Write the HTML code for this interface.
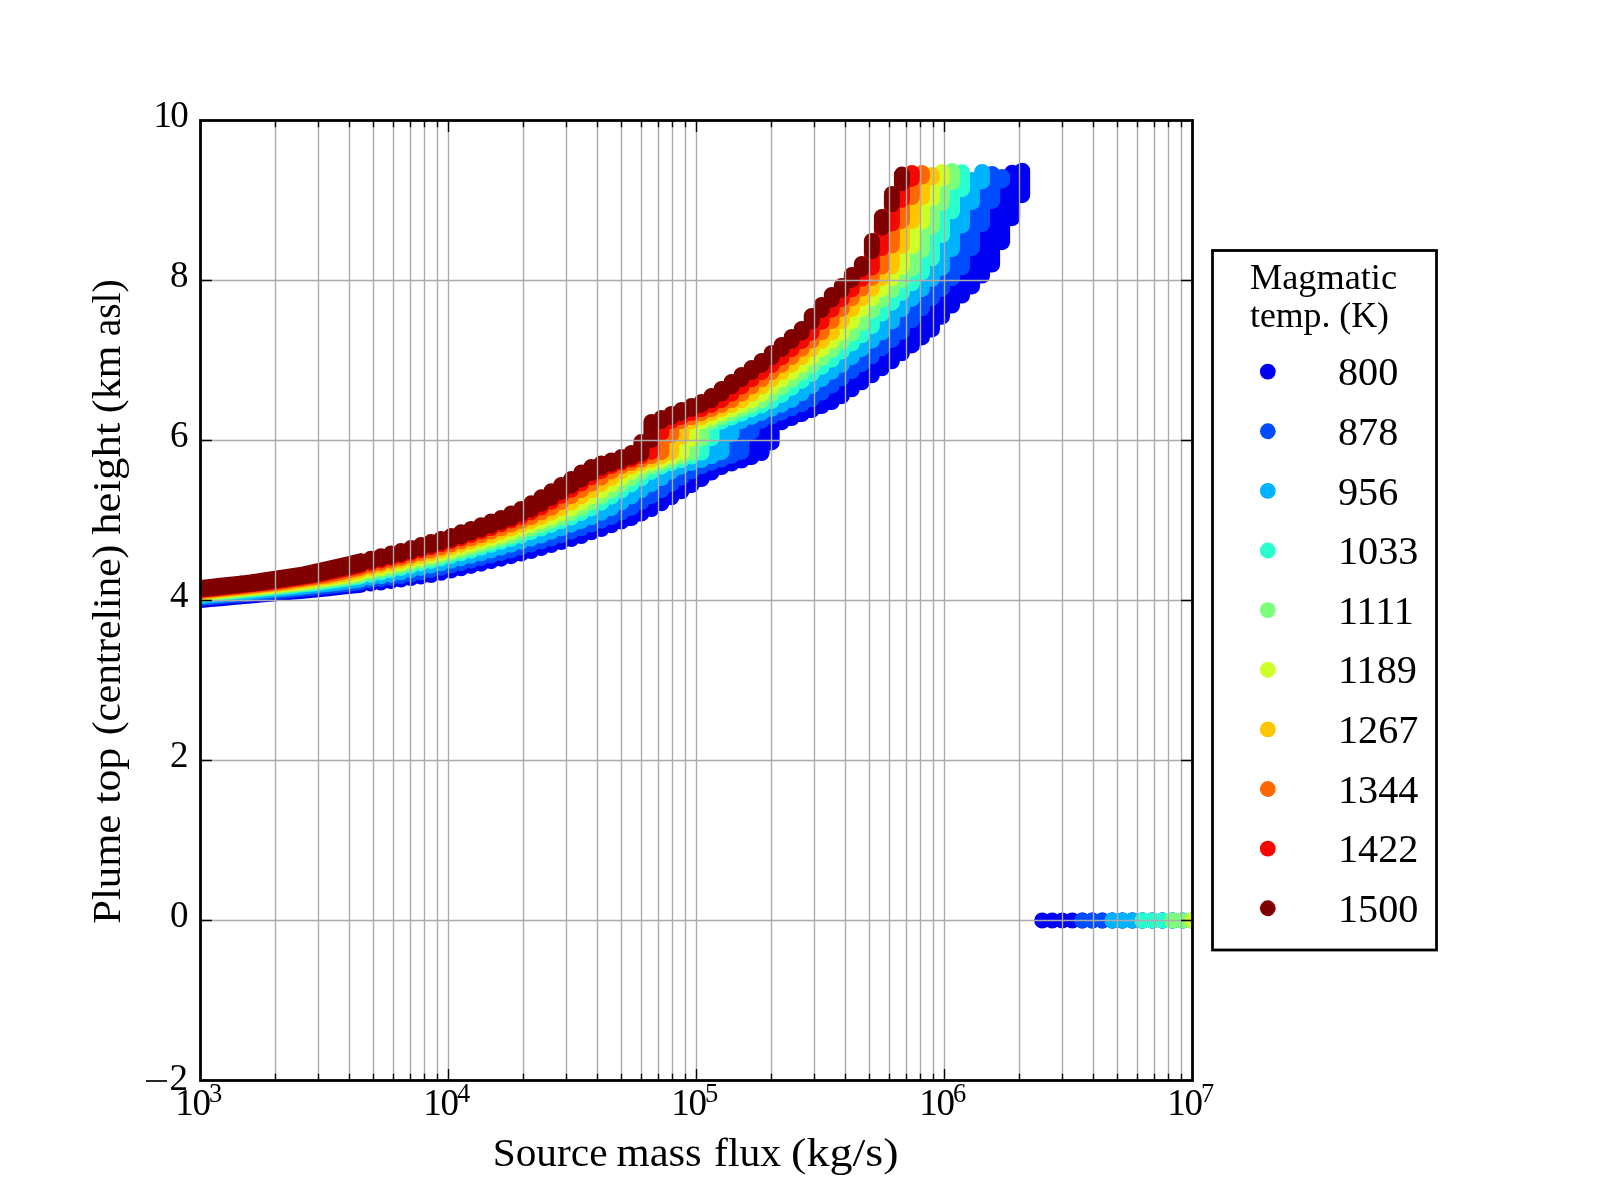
<!DOCTYPE html>
<html><head><meta charset="utf-8"><title>Plume top height vs source mass flux</title>
<style>html,body{margin:0;padding:0;background:#fff;}svg{display:block;will-change:transform;}text{font-family:"Liberation Serif",serif;fill:#000;}</style></head><body>
<svg width="1600" height="1200" viewBox="0 0 1600 1200">
<rect width="1600" height="1200" fill="#fff"/>
<defs><clipPath id="ax"><rect x="200.5" y="120.5" width="992.0" height="960.0"/></clipPath></defs>
<g clip-path="url(#ax)" fill="none" stroke-width="16" stroke-linecap="round" stroke-linejoin="round">
<path stroke="#0000f3" d="M200.5 598.02V600M210.52 597.12V599.1M220.54 596.22V598.2M230.56 595.32V597.3M240.58 594.42V596.4M250.6 593.52V595.5M260.62 592.62V594.6M270.64 591.72V593.7M280.66 590.8V592.8M290.68 589.8V591.9M300.7 588.8V591M310.72 587.78V590M320.74 586.68V589M330.76 585.58V588M340.78 584.48V586.9M350.8 583.38V585.8M360.82 582.2V584.7M370.84 580.7V583.6M380.86 579.2V582.5M390.88 577.7V581M400.9 576.2V579.5M410.92 574.55V578M420.94 572.29V576.5M430.96 570.03V575M440.98 567.77V572.74M451.01 565.51V570.48M461.03 563.2V568.22M471.05 560.68V565.96M481.07 558.16V563.7M491.09 555.64V561.18M501.11 553.12V558.66M511.13 550.5V556.14M521.15 547.5V553.62M531.17 544.5V551.1M541.19 541.5V548.1M551.21 538.5V545.1M561.23 535.34V542.1M571.25 531.64V539.1M581.27 528.25V536.1M591.29 524.5V532.3M601.31 520.8V529M611.33 517.1V525.25M621.35 512.6V521.5M631.37 507.86V518M641.39 502.1V513.5M651.41 496.1V509M661.43 490.04V503.3M671.45 483.8V497.3M681.47 477.7V491.3M691.49 471.4V485M701.51 466.3V479M711.53 462.83V472.51M721.55 459.64V467.02M731.57 455.93V463.52M741.59 451.75V460.53M751.61 431.73V457.04M761.63 420.65V453.05M771.65 416.56V442.42M781.67 412.47V422.22M791.69 408.38V418.08M801.71 404.29V414.09M811.73 399.3V410.1M821.75 392.69V406.11M831.77 385.53V402.12M841.79 378.37V396.19M851.81 371.21V389.24M861.83 364.05V382.25M871.85 356.31V375.27M881.87 348.13V368.29M891.89 339.95V361.3M901.91 331.76V353.36M911.93 320.2V345.38M921.95 308.3V337.4M931.97 298V329.4M941.99 288.7V316.65M952.02 278.3V305.55M962.04 267.3V295.5M972.06 247.9V286.45M982.08 224.2V275.55M992.1 200.9V264.55M1002.12 180.42V242.15M1012.14 172.75V218.2M1022.16 170.75V195.15M200.5 598.02L210.52 597.12L220.54 596.22L230.56 595.32L240.58 594.42L250.6 593.52L260.62 592.62L270.64 591.72L280.66 590.8L290.68 589.8L300.7 588.8L310.72 587.78L320.74 586.68L330.76 585.58L340.78 584.48L350.8 583.38L360.82 582.2M200.5 600L210.52 599.1L220.54 598.2L230.56 597.3L240.58 596.4L250.6 595.5L260.62 594.6L270.64 593.7L280.66 592.8L290.68 591.9L300.7 591L310.72 590L320.74 589L330.76 588L340.78 586.9L350.8 585.8L360.82 584.7M1042.2 920.5v.05M1052.22 920.5v.05M1062.24 920.5v.05M1072.26 920.5v.05M1082.28 920.5v.05M1092.3 920.5v.05M1102.32 920.5v.05M1112.34 920.5v.05M1122.36 920.5v.05M1132.38 920.5v.05M1142.4 920.5v.05M1152.42 920.5v.05M1162.44 920.5v.05M1172.46 920.5v.05M1182.48 920.5v.05M1192.5 920.5v.05"/>
<path stroke="#004dff" d="M200.5 596.26V598.02M210.52 595.37V597.12M220.54 594.47V596.22M230.56 593.57V595.32M240.58 592.66V594.42M250.6 591.76V593.52M260.62 590.85V592.62M270.64 589.85V591.72M280.66 588.85V590.8M290.68 587.84V589.8M300.7 586.74V588.8M310.72 585.63V587.78M320.74 584.53V586.68M330.76 583.43V585.58M340.78 582.27V584.48M350.8 580.77V583.38M360.82 579.27V582.2M370.84 577.77V580.7M380.86 576.27V579.2M390.88 574.66V577.7M400.9 572.4V576.2M410.92 570.14V574.55M420.94 567.88V572.29M430.96 565.62V570.03M440.98 563.32V567.77M451.01 560.8V565.51M461.03 558.28V563.2M471.05 555.76V560.68M481.07 553.24V558.16M491.09 550.65V555.64M501.11 547.65V553.12M511.13 544.65V550.5M521.15 541.65V547.5M531.17 538.65V544.5M541.19 535.53V541.5M551.21 531.8V538.5M561.23 528.44V535.34M571.25 524.69V531.64M581.27 520.98V528.25M591.29 517.33V524.5M601.31 512.83V520.8M611.33 508.14V517.1M621.35 502.4V512.6M631.37 496.4V507.86M641.39 490.36V502.1M651.41 484.1V496.1M661.43 478.03V490.04M671.45 471.68V483.8M681.47 466.48V477.7M691.49 463.05V471.4M701.51 459.98V466.3M711.53 456.31V462.83M721.55 452.16V459.64M731.57 434.15V455.93M741.59 421.04V451.75M751.61 416.95V431.73M761.63 412.85V420.65M771.65 408.76V416.56M781.67 404.67V412.47M791.69 399.87V408.38M801.71 393.36V404.29M811.73 386.2V399.3M821.75 379.04V392.69M831.77 371.88V385.53M841.79 364.72V378.37M851.81 357.07V371.21M861.83 348.89V364.05M871.85 340.71V356.31M881.87 332.53V348.13M891.89 321.44V339.95M901.91 309.35V331.76M911.93 298.73V320.2M921.95 289.15V308.3M931.97 278.85V298M941.99 267.85V288.7M952.02 249.05V278.3M962.04 225.4V267.3M972.06 202.05V247.9M982.08 181.39V224.2M992.1 174V200.9M1002.12 177V180.42M200.5 596.26L210.52 595.37L220.54 594.47L230.56 593.57L240.58 592.66L250.6 591.76L260.62 590.85L270.64 589.85L280.66 588.85L290.68 587.84L300.7 586.74L310.72 585.63L320.74 584.53L330.76 583.43L340.78 582.27L350.8 580.77L360.82 579.27M200.5 598.02L210.52 597.12L220.54 596.22L230.56 595.32L240.58 594.42L250.6 593.52L260.62 592.62L270.64 591.72L280.66 590.8L290.68 589.8L300.7 588.8L310.72 587.78L320.74 586.68L330.76 585.58L340.78 584.48L350.8 583.38L360.82 582.2M1082.28 920.5v.05M1092.3 920.5v.05M1102.32 920.5v.05M1112.34 920.5v.05M1122.36 920.5v.05M1132.38 920.5v.05M1142.4 920.5v.05M1152.42 920.5v.05M1162.44 920.5v.05M1172.46 920.5v.05M1182.48 920.5v.05M1192.5 920.5v.05"/>
<path stroke="#00b3ff" d="M200.5 594.51V596.26M210.52 593.61V595.37M220.54 592.71V594.47M230.56 591.81V593.57M240.58 590.9V592.66M250.6 589.9V591.76M260.62 588.9V590.85M270.64 587.89V589.85M280.66 586.79V588.85M290.68 585.69V587.84M300.7 584.59V586.74M310.72 583.49V585.63M320.74 582.35V584.53M330.76 580.85V583.43M340.78 579.35V582.27M350.8 577.85V580.77M360.82 576.35V579.27M370.84 574.77V577.77M380.86 572.51V576.27M390.88 570.25V574.66M400.9 567.99V572.4M410.92 565.73V570.14M420.94 563.45V567.88M430.96 560.93V565.62M440.98 558.41V563.32M451.01 555.89V560.8M461.03 553.37V558.28M471.05 550.8V555.76M481.07 547.8V553.24M491.09 544.8V550.65M501.11 541.8V547.65M511.13 538.8V544.65M521.15 535.72V541.65M531.17 531.97V538.65M541.19 528.62V535.53M551.21 524.88V531.8M561.23 521.15V528.44M571.25 517.55V524.69M581.27 513.05V520.98M591.29 508.43V517.33M601.31 502.7V512.83M611.33 496.7V508.14M621.35 490.67V502.4M631.37 484.4V496.4M641.39 478.35V490.36M651.41 471.95V484.1M661.43 466.65V478.03M671.45 463.2V471.68M681.47 460.15V466.48M691.49 456.6V463.05M701.51 452.57V459.98M711.53 438.4V456.31M721.55 421.6V452.16M731.57 417.6V434.15M741.59 413.6V421.04M751.61 409.6V416.95M761.63 405.6V412.85M771.65 401.4V408.76M781.67 395.3V404.67M791.69 388.3V399.87M801.71 381.3V393.36M811.73 374.46V386.2M821.75 367.61V379.04M831.77 360.74V371.88M841.79 352.92V364.72M851.81 345.09V357.07M861.83 337.27V348.89M871.85 329.45V340.71M881.87 317.02V332.53M891.89 306.11V321.44M901.91 296.24V309.35M911.93 287.31V298.73M921.95 276.85V289.15M931.97 266.1V278.85M941.99 245.9V267.85M952.02 222.65V249.05M962.04 199.93V225.4M972.06 180.03V202.05M982.08 172V181.39M200.5 594.51L210.52 593.61L220.54 592.71L230.56 591.81L240.58 590.9L250.6 589.9L260.62 588.9L270.64 587.89L280.66 586.79L290.68 585.69L300.7 584.59L310.72 583.49L320.74 582.35L330.76 580.85L340.78 579.35L350.8 577.85L360.82 576.35M200.5 596.26L210.52 595.37L220.54 594.47L230.56 593.57L240.58 592.66L250.6 591.76L260.62 590.85L270.64 589.85L280.66 588.85L290.68 587.84L300.7 586.74L310.72 585.63L320.74 584.53L330.76 583.43L340.78 582.27L350.8 580.77L360.82 579.27M1112.34 920.5v.05M1122.36 920.5v.05M1132.38 920.5v.05M1142.4 920.5v.05M1152.42 920.5v.05M1162.44 920.5v.05M1172.46 920.5v.05M1182.48 920.5v.05M1192.5 920.5v.05"/>
<path stroke="#29ffce" d="M200.5 593.61V594.51M210.52 592.71V593.61M220.54 591.81V592.71M230.56 590.9V591.81M240.58 589.9V590.9M250.6 588.9V589.9M260.62 587.89V588.9M270.64 586.79V587.89M280.66 585.69V586.79M290.68 584.59V585.69M300.7 583.49V584.59M310.72 582.35V583.49M320.74 580.85V582.35M330.76 579.35V580.85M340.78 577.85V579.35M350.8 576.35V577.85M360.82 574.77V576.35M370.84 572.51V574.77M380.86 570.25V572.51M390.88 567.99V570.25M400.9 565.73V567.99M410.92 563.45V565.73M420.94 560.93V563.45M430.96 558.41V560.93M440.98 555.89V558.41M451.01 553.37V555.89M461.03 550.8V553.37M471.05 547.8V550.8M481.07 544.8V547.8M491.09 541.8V544.8M501.11 538.8V541.8M511.13 535.72V538.8M521.15 531.97V535.72M531.17 528.62V531.97M541.19 524.88V528.62M551.21 521.15V524.88M561.23 517.55V521.15M571.25 513.05V517.55M581.27 508.43V513.05M591.29 502.7V508.43M601.31 496.7V502.7M611.33 490.67V496.7M621.35 484.4V490.67M631.37 478.35V484.4M641.39 471.95V478.35M651.41 466.65V471.95M661.43 463.2V466.65M671.45 460.15V463.2M681.47 456.6V460.15M691.49 452.57V456.6M701.51 438.4V452.57M711.53 421.51V438.15M721.55 417.42V421.55M731.57 413.33V417.52M741.59 409.24V413.49M751.61 405.15V409.46M761.63 400.58V405.44M771.65 394.19V401.11M781.67 387.03V394.92M791.69 379.87V387.87M801.71 372.71V380.82M811.73 365.55V373.78M821.75 358.02V366.73M831.77 349.84V359.49M841.79 341.65V351.44M851.81 333.47V343.38M861.83 322.97V335.33M871.85 310.65V326.19M881.87 299.91V313.55M891.89 290.21V302.7M901.91 279.9V292.87M911.93 268.65V283.32M921.95 250.2V272.25M931.97 226.6V258.25M941.99 203.2V235M952.02 182.36V211.25M962.04 172.3V189.15M200.5 593.61L210.52 592.71L220.54 591.81L230.56 590.9L240.58 589.9L250.6 588.9L260.62 587.89L270.64 586.79L280.66 585.69L290.68 584.59L300.7 583.49L310.72 582.35L320.74 580.85L330.76 579.35L340.78 577.85L350.8 576.35L360.82 574.77M200.5 594.51L210.52 593.61L220.54 592.71L230.56 591.81L240.58 590.9L250.6 589.9L260.62 588.9L270.64 587.89L280.66 586.79L290.68 585.69L300.7 584.59L310.72 583.49L320.74 582.35L330.76 580.85L340.78 579.35L350.8 577.85L360.82 576.35M1142.4 920.5v.05M1152.42 920.5v.05M1162.44 920.5v.05M1172.46 920.5v.05M1182.48 920.5v.05M1192.5 920.5v.05"/>
<path stroke="#7bff7b" d="M200.5 592.71V593.61M210.52 591.81V592.71M220.54 590.9V591.81M230.56 589.9V590.9M240.58 588.9V589.9M250.6 587.89V588.9M260.62 586.79V587.89M270.64 585.69V586.79M280.66 584.59V585.69M290.68 583.49V584.59M300.7 582.35V583.49M310.72 580.85V582.35M320.74 579.35V580.85M330.76 577.85V579.35M340.78 576.35V577.85M350.8 574.77V576.35M360.82 572.51V574.77M370.84 570.25V572.51M380.86 567.99V570.25M390.88 565.73V567.99M400.9 563.45V565.73M410.92 560.93V563.45M420.94 558.41V560.93M430.96 555.89V558.41M440.98 553.37V555.89M451.01 550.8V553.37M461.03 547.8V550.8M471.05 544.8V547.8M481.07 541.8V544.8M491.09 538.8V541.8M501.11 535.72V538.8M511.13 531.97V535.72M521.15 528.62V531.97M531.17 524.88V528.62M541.19 521.15V524.88M551.21 517.55V521.15M561.23 513.05V517.55M571.25 508.43V513.05M581.27 502.7V508.43M591.29 496.7V502.7M601.31 490.67V496.7M611.33 484.4V490.67M621.35 478.35V484.4M631.37 471.95V478.35M641.39 466.65V471.95M651.41 463.2V466.65M661.43 460.15V463.2M671.45 456.6V460.15M681.47 452.57V456.6M691.49 438.4V452.57M701.51 421.6V438.4M711.53 417.47V421.51M721.55 413.35V417.42M731.57 409.22V413.33M741.59 405.09V409.24M751.61 400.45V405.15M761.63 393.96V400.58M771.65 386.74V394.19M781.67 379.52V387.03M791.69 372.3V379.87M801.71 365.07V372.71M811.73 357.4V365.55M821.75 349.15V358.02M831.77 340.89V349.84M841.79 332.64V341.65M851.81 321.5V333.47M861.83 309.3V322.97M871.85 298.59V310.65M881.87 288.95V299.91M891.89 278.25V290.21M901.91 266.9V279.9M911.93 246.33V268.65M921.95 221.8V250.2M931.97 198.6V226.6M941.99 178.48V203.2M952.02 171V182.36M200.5 592.71L210.52 591.81L220.54 590.9L230.56 589.9L240.58 588.9L250.6 587.89L260.62 586.79L270.64 585.69L280.66 584.59L290.68 583.49L300.7 582.35L310.72 580.85L320.74 579.35L330.76 577.85L340.78 576.35L350.8 574.77L360.82 572.51M200.5 593.61L210.52 592.71L220.54 591.81L230.56 590.9L240.58 589.9L250.6 588.9L260.62 587.89L270.64 586.79L280.66 585.69L290.68 584.59L300.7 583.49L310.72 582.35L320.74 580.85L330.76 579.35L340.78 577.85L350.8 576.35L360.82 574.77M1172.46 920.5v.05M1182.48 920.5v.05M1192.5 920.5v.05"/>
<path stroke="#ceff29" d="M200.5 591.76V592.71M210.52 590.85V591.81M220.54 589.85V590.9M230.56 588.85V589.9M240.58 587.84V588.9M250.6 586.74V587.89M260.62 585.63V586.79M270.64 584.53V585.69M280.66 583.43V584.59M290.68 582.27V583.49M300.7 580.77V582.35M310.72 579.27V580.85M320.74 577.77V579.35M330.76 576.27V577.85M340.78 574.66V576.35M350.8 572.4V574.77M360.82 570.14V572.51M370.84 567.88V570.25M380.86 565.62V567.99M390.88 563.32V565.73M400.9 560.8V563.45M410.92 558.28V560.93M420.94 555.76V558.41M430.96 553.24V555.89M440.98 550.65V553.37M451.01 547.65V550.8M461.03 544.65V547.8M471.05 541.65V544.8M481.07 538.65V541.8M491.09 535.53V538.8M501.11 531.8V535.72M511.13 528.44V531.97M521.15 524.69V528.62M531.17 520.98V524.88M541.19 517.33V521.15M551.21 512.83V517.55M561.23 508.14V513.05M571.25 502.4V508.43M581.27 496.4V502.7M591.29 490.36V496.7M601.31 484.1V490.67M611.33 478.03V484.4M621.35 471.68V478.35M631.37 466.48V471.95M641.39 463.05V466.65M651.41 459.98V463.2M661.43 456.4V460.15M671.45 452.36V456.6M681.47 436.6V452.57M691.49 421.4V438.4M701.51 417.4V421.6M711.53 413.27V417.47M721.55 409.15V413.35M731.57 405.02V409.22M741.59 400.34V405.09M751.61 393.84V400.45M761.63 386.61V393.96M771.65 379.39V386.74M781.67 372.17V379.52M791.69 364.95V372.3M801.71 357.25V365.07M811.73 349V357.4M821.75 340.75V349.15M831.77 332.49V340.89M841.79 321.26V332.64M851.81 309.1V321.5M861.83 298.41V309.3M871.85 288.78V298.59M881.87 278.05V288.95M891.89 266.7V278.25M901.91 245.91V266.9M911.93 221.36V246.33M921.95 197.45V221.8M931.97 177.51V198.6M941.99 172V178.48M200.5 591.76L210.52 590.85L220.54 589.85L230.56 588.85L240.58 587.84L250.6 586.74L260.62 585.63L270.64 584.53L280.66 583.43L290.68 582.27L300.7 580.77L310.72 579.27L320.74 577.77L330.76 576.27L340.78 574.66L350.8 572.4L360.82 570.14M200.5 592.71L210.52 591.81L220.54 590.9L230.56 589.9L240.58 588.9L250.6 587.89L260.62 586.79L270.64 585.69L280.66 584.59L290.68 583.49L300.7 582.35L310.72 580.85L320.74 579.35L330.76 577.85L340.78 576.35L350.8 574.77L360.82 572.51M1192.5 920.5v.05"/>
<path stroke="#ffc600" d="M200.5 590.8V591.76M210.52 589.8V590.85M220.54 588.8V589.85M230.56 587.78V588.85M240.58 586.68V587.84M250.6 585.58V586.74M260.62 584.48V585.63M270.64 583.38V584.53M280.66 582.2V583.43M290.68 580.7V582.27M300.7 579.2V580.77M310.72 577.7V579.27M320.74 576.2V577.77M330.76 574.55V576.27M340.78 572.29V574.66M350.8 570.03V572.4M360.82 567.77V570.14M370.84 565.51V567.88M380.86 563.2V565.62M390.88 560.68V563.32M400.9 558.16V560.8M410.92 555.64V558.28M420.94 553.12V555.76M430.96 550.5V553.24M440.98 547.5V550.65M451.01 544.5V547.65M461.03 541.5V544.65M471.05 538.5V541.65M481.07 535.34V538.65M491.09 531.64V535.53M501.11 528.25V531.8M511.13 524.5V528.44M521.15 520.8V524.69M531.17 517.1V520.98M541.19 512.6V517.33M551.21 507.86V512.83M561.23 502.1V508.14M571.25 496.1V502.4M581.27 490.04V496.4M591.29 483.8V490.36M601.31 477.7V484.1M611.33 471.4V478.03M621.35 466.3V471.68M631.37 462.9V466.48M641.39 459.8V463.05M651.41 456.2V459.98M661.43 452.14V456.4M671.45 434.8V452.36M681.47 421.2V436.6M691.49 417.2V421.4M701.51 413.2V417.4M711.53 409.07V413.27M721.55 404.95V409.15M731.57 400.23V405.02M741.59 393.71V400.34M751.61 386.49V393.84M761.63 379.26V386.61M771.65 372.04V379.39M781.67 364.82V372.17M791.69 357.11V364.95M801.71 348.85V357.25M811.73 340.6V349M821.75 332.35V340.75M831.77 321.02V332.49M841.79 308.9V321.26M851.81 298.23V309.1M861.83 288.62V298.41M871.85 277.85V288.78M881.87 266.5V278.05M891.89 245.5V266.7M901.91 220.93V245.91M911.93 197.03V221.36M921.95 176.54V197.45M931.97 175V177.51M200.5 590.8L210.52 589.8L220.54 588.8L230.56 587.78L240.58 586.68L250.6 585.58L260.62 584.48L270.64 583.38L280.66 582.2L290.68 580.7L300.7 579.2L310.72 577.7L320.74 576.2L330.76 574.55L340.78 572.29L350.8 570.03L360.82 567.77M200.5 591.76L210.52 590.85L220.54 589.85L230.56 588.85L240.58 587.84L250.6 586.74L260.62 585.63L270.64 584.53L280.66 583.43L290.68 582.27L300.7 580.77L310.72 579.27L320.74 577.77L330.76 576.27L340.78 574.66L350.8 572.4L360.82 570.14"/>
<path stroke="#ff6800" d="M200.5 589.75V590.8M210.52 588.75V589.8M220.54 587.73V588.8M230.56 586.62V587.78M240.58 585.52V586.68M250.6 584.42V585.58M260.62 583.33V584.48M270.64 582.12V583.38M280.66 580.62V582.2M290.68 579.12V580.7M300.7 577.62V579.2M310.72 576.12V577.7M320.74 574.43V576.2M330.76 572.17V574.55M340.78 569.91V572.29M350.8 567.65V570.03M360.82 565.39V567.77M370.84 563.07V565.51M380.86 560.55V563.2M390.88 558.03V560.68M400.9 555.51V558.16M410.92 552.99V555.64M420.94 550.35V553.12M430.96 547.35V550.5M440.98 544.35V547.5M451.01 541.35V544.5M461.03 538.35V541.5M471.05 535.15V538.5M481.07 531.47V535.34M491.09 528.06V531.64M501.11 524.31V528.25M511.13 520.62V524.5M521.15 516.88V520.8M531.17 512.38V517.1M541.19 507.57V512.6M551.21 501.8V507.86M561.23 495.8V502.1M571.25 489.73V496.1M581.27 483.5V490.04M591.29 477.38V483.8M601.31 471.12V477.7M611.33 466.12V471.4M621.35 462.75V466.3M631.37 459.62V462.9M641.39 456V459.8M651.41 451.93V456.2M661.43 433V452.14M671.45 421V434.8M681.47 417V421.2M691.49 413V417.2M701.51 409V413.2M711.53 404.9V409.07M721.55 400.2V404.95M731.57 393.72V400.23M741.59 386.55V393.71M751.61 379.38V386.49M761.63 372.2V379.26M771.65 365.03V372.04M781.67 357.4V364.82M791.69 349.2V357.11M801.71 341V348.85M811.73 332.8V340.6M821.75 321.85V332.35M831.77 309.67V321.02M841.79 299V308.9M851.81 289.38V298.23M861.83 278.85V288.62M871.85 267.58V277.85M881.87 247.9V266.5M891.89 223.6V245.5M901.91 199.75V220.93M911.93 178.96V197.03M921.95 173V176.54M200.5 589.75L210.52 588.75L220.54 587.73L230.56 586.62L240.58 585.52L250.6 584.42L260.62 583.33L270.64 582.12L280.66 580.62L290.68 579.12L300.7 577.62L310.72 576.12L320.74 574.43L330.76 572.17L340.78 569.91L350.8 567.65L360.82 565.39M200.5 590.8L210.52 589.8L220.54 588.8L230.56 587.78L240.58 586.68L250.6 585.58L260.62 584.48L270.64 583.38L280.66 582.2L290.68 580.7L300.7 579.2L310.72 577.7L320.74 576.2L330.76 574.55L340.78 572.29L350.8 570.03L360.82 567.77"/>
<path stroke="#f30900" d="M200.5 589.1V589.75M210.52 588.1V588.75M220.54 587.01V587.73M230.56 585.91V586.62M240.58 584.81V585.52M250.6 583.71V584.42M260.62 582.61V583.33M270.64 581.15V582.12M280.66 579.65V580.62M290.68 578.15V579.12M300.7 576.65V577.62M310.72 575.15V576.12M320.74 572.97V574.43M330.76 570.71V572.17M340.78 568.45V569.91M350.8 566.19V567.65M360.82 563.93V565.39M370.84 561.43V563.07M380.86 558.91V560.55M390.88 556.39V558.03M400.9 553.87V555.51M410.92 551.35V552.99M420.94 548.4V550.35M430.96 545.4V547.35M440.98 542.4V544.35M451.01 539.4V541.35M461.03 536.4V538.35M471.05 532.68V535.15M481.07 529.33V531.47M491.09 525.62V528.06M501.11 521.88V524.31M511.13 518.35V520.62M521.15 513.95V516.88M531.17 509.45V512.38M541.19 503.87V507.57M551.21 497.9V501.8M561.23 491.9V495.8M571.25 485.63V489.73M581.27 479.6V483.5M591.29 473.15V477.38M601.31 467.55V471.12M611.33 463.85V466.12M621.35 460.8V462.75M631.37 457.35V459.62M641.39 453.4V456M651.41 440.2V451.93M661.43 421V433M671.45 416.95V421M681.47 412.9V417M691.49 408.85V413M701.51 404.8V409M711.53 400.05V404.9M721.55 393.55V400.2M731.57 386.38V393.72M741.59 379.2V386.55M751.61 372.03V379.38M761.63 364.85V372.2M771.65 357.2V365.03M781.67 349V357.4M791.69 340.8V349.2M801.71 332.6V341M811.73 321.85V332.8M821.75 309.95V321.85M831.77 299.5V309.67M841.79 290.05V299M851.81 279.95V289.38M861.83 268.95V278.85M871.85 251.35V267.58M881.87 227.8V247.9M891.89 204.35V223.6M901.91 183.33V199.75M911.93 173V178.96M200.5 589.1L210.52 588.1L220.54 587.01L230.56 585.91L240.58 584.81L250.6 583.71L260.62 582.61L270.64 581.15L280.66 579.65L290.68 578.15L300.7 576.65L310.72 575.15L320.74 572.97L330.76 570.71L340.78 568.45L350.8 566.19L360.82 563.93M200.5 589.75L210.52 588.75L220.54 587.73L230.56 586.62L240.58 585.52L250.6 584.42L260.62 583.33L270.64 582.12L280.66 580.62L290.68 579.12L300.7 577.62L310.72 576.12L320.74 574.43L330.76 572.17L340.78 569.91L350.8 567.65L360.82 565.39"/>
<path stroke="#800000" d="M200.5 588V589.1M210.52 586.9V588.1M220.54 585.8V587.01M230.56 584.7V585.91M240.58 583.6V584.81M250.6 582.5V583.71M260.62 581V582.61M270.64 579.5V581.15M280.66 578V579.65M290.68 576.5V578.15M300.7 575V576.65M310.72 572.74V575.15M320.74 570.48V572.97M330.76 568.22V570.71M340.78 565.96V568.45M350.8 563.7V566.19M360.82 561.18V563.93M370.84 558.66V561.43M380.86 556.14V558.91M390.88 553.62V556.39M400.9 551.1V553.87M410.92 548.1V551.35M420.94 545.1V548.4M430.96 542.1V545.4M440.98 539.1V542.4M451.01 536.1V539.4M461.03 532.3V536.4M471.05 529V532.68M481.07 525.25V529.33M491.09 521.5V525.62M501.11 518V521.88M511.13 513.5V518.35M521.15 509V513.95M531.17 503.3V509.45M541.19 497.3V503.87M551.21 491.3V497.9M561.23 485V491.9M571.25 479V485.63M581.27 472.5V479.6M591.29 467V473.15M601.31 463.5V467.55M611.33 460.5V463.85M621.35 457V460.8M631.37 453V457.35M641.39 442V453.4M651.41 422V440.2M661.43 418V421M671.45 414V416.95M681.47 410V412.9M691.49 406V408.85M701.51 402V404.8M711.53 396V400.05M721.55 389V393.55M731.57 382V386.38M741.59 375V379.2M751.61 368V372.03M761.63 361V364.85M771.65 353V357.2M781.67 345V349M791.69 337V340.8M801.71 329V332.6M811.73 316V321.85M821.75 305V309.95M831.77 295V299.5M841.79 286V290.05M851.81 275V279.95M861.83 264V268.95M871.85 241V251.35M881.87 217V227.8M891.89 194V204.35M901.91 174.6V183.33M200.5 588L210.52 586.9L220.54 585.8L230.56 584.7L240.58 583.6L250.6 582.5L260.62 581L270.64 579.5L280.66 578L290.68 576.5L300.7 575L310.72 572.74L320.74 570.48L330.76 568.22L340.78 565.96L350.8 563.7L360.82 561.18M200.5 589.1L210.52 588.1L220.54 587.01L230.56 585.91L240.58 584.81L250.6 583.71L260.62 582.61L270.64 581.15L280.66 579.65L290.68 578.15L300.7 576.65L310.72 575.15L320.74 572.97L330.76 570.71L340.78 568.45L350.8 566.19L360.82 563.93"/>
</g>
<path d="M275.5 120.5V1080.5M318.5 120.5V1080.5M349.5 120.5V1080.5M373.5 120.5V1080.5M393.5 120.5V1080.5M410.5 120.5V1080.5M424.5 120.5V1080.5M437.5 120.5V1080.5M448.5 120.5V1080.5M523.5 120.5V1080.5M566.5 120.5V1080.5M597.5 120.5V1080.5M621.5 120.5V1080.5M641.5 120.5V1080.5M658.5 120.5V1080.5M672.5 120.5V1080.5M685.5 120.5V1080.5M696.5 120.5V1080.5M771.5 120.5V1080.5M814.5 120.5V1080.5M845.5 120.5V1080.5M869.5 120.5V1080.5M889.5 120.5V1080.5M906.5 120.5V1080.5M920.5 120.5V1080.5M933.5 120.5V1080.5M944.5 120.5V1080.5M1019.5 120.5V1080.5M1062.5 120.5V1080.5M1093.5 120.5V1080.5M1117.5 120.5V1080.5M1137.5 120.5V1080.5M1154.5 120.5V1080.5M1168.5 120.5V1080.5M1181.5 120.5V1080.5M200.5 920.5H1192.5M200.5 760.5H1192.5M200.5 600.5H1192.5M200.5 440.5H1192.5M200.5 280.5H1192.5" fill="none" stroke="#ababab" stroke-width="1.39"/>
<path d="M275.5 1080.5v-6.7M275.5 120.5v6.7M318.5 1080.5v-6.7M318.5 120.5v6.7M349.5 1080.5v-6.7M349.5 120.5v6.7M373.5 1080.5v-6.7M373.5 120.5v6.7M393.5 1080.5v-6.7M393.5 120.5v6.7M410.5 1080.5v-6.7M410.5 120.5v6.7M424.5 1080.5v-6.7M424.5 120.5v6.7M437.5 1080.5v-6.7M437.5 120.5v6.7M448.5 1080.5v-11.4M448.5 120.5v11.4M523.5 1080.5v-6.7M523.5 120.5v6.7M566.5 1080.5v-6.7M566.5 120.5v6.7M597.5 1080.5v-6.7M597.5 120.5v6.7M621.5 1080.5v-6.7M621.5 120.5v6.7M641.5 1080.5v-6.7M641.5 120.5v6.7M658.5 1080.5v-6.7M658.5 120.5v6.7M672.5 1080.5v-6.7M672.5 120.5v6.7M685.5 1080.5v-6.7M685.5 120.5v6.7M696.5 1080.5v-11.4M696.5 120.5v11.4M771.5 1080.5v-6.7M771.5 120.5v6.7M814.5 1080.5v-6.7M814.5 120.5v6.7M845.5 1080.5v-6.7M845.5 120.5v6.7M869.5 1080.5v-6.7M869.5 120.5v6.7M889.5 1080.5v-6.7M889.5 120.5v6.7M906.5 1080.5v-6.7M906.5 120.5v6.7M920.5 1080.5v-6.7M920.5 120.5v6.7M933.5 1080.5v-6.7M933.5 120.5v6.7M944.5 1080.5v-11.4M944.5 120.5v11.4M1019.5 1080.5v-6.7M1019.5 120.5v6.7M1062.5 1080.5v-6.7M1062.5 120.5v6.7M1093.5 1080.5v-6.7M1093.5 120.5v6.7M1117.5 1080.5v-6.7M1117.5 120.5v6.7M1137.5 1080.5v-6.7M1137.5 120.5v6.7M1154.5 1080.5v-6.7M1154.5 120.5v6.7M1168.5 1080.5v-6.7M1168.5 120.5v6.7M1181.5 1080.5v-6.7M1181.5 120.5v6.7M200.5 920.5h11.4M1192.5 920.5h-11.4M200.5 760.5h11.4M1192.5 760.5h-11.4M200.5 600.5h11.4M1192.5 600.5h-11.4M200.5 440.5h11.4M1192.5 440.5h-11.4M200.5 280.5h11.4M1192.5 280.5h-11.4" fill="none" stroke="#000" stroke-width="1.39"/>
<rect x="200.5" y="120.5" width="992.0" height="960.0" fill="none" stroke="#000" stroke-width="2.8"/>
<g font-size="37.0" text-anchor="end">
<text x="187.2" y="126.8" letter-spacing="-1.6">10</text>
<text x="188.4" y="286.8">8</text>
<text x="188.4" y="446.8">6</text>
<text x="188.4" y="606.8">4</text>
<text x="188.4" y="766.8">2</text>
<text x="188.4" y="926.8">0</text>
<text x="187.9" y="1090.2">2</text>
</g>
<path d="M146 1081H167" stroke="#000" stroke-width="1.7" fill="none"/>
<g>
</g>
<text x="175.3" y="1114.7" font-size="37.0" letter-spacing="-1.3">10<tspan dx="-0.8" dy="-12.6" font-size="26.5">3</tspan></text>
<text x="423.3" y="1114.7" font-size="37.0" letter-spacing="-1.3">10<tspan dx="-0.8" dy="-12.6" font-size="26.5">4</tspan></text>
<text x="671.3" y="1114.7" font-size="37.0" letter-spacing="-1.3">10<tspan dx="-0.8" dy="-12.6" font-size="26.5">5</tspan></text>
<text x="919.3" y="1114.7" font-size="37.0" letter-spacing="-1.3">10<tspan dx="-0.8" dy="-12.6" font-size="26.5">6</tspan></text>
<text x="1167.3" y="1114.7" font-size="37.0" letter-spacing="-1.3">10<tspan dx="-0.8" dy="-12.6" font-size="26.5">7</tspan></text>
<text x="492.7" y="1166" font-size="40.0" textLength="114.8" lengthAdjust="spacingAndGlyphs">Source</text>
<text x="616.5" y="1166" font-size="40.0" textLength="85.2" lengthAdjust="spacingAndGlyphs">mass</text>
<text x="714.1" y="1166" font-size="40.0" textLength="66.9" lengthAdjust="spacingAndGlyphs">flux</text>
<text x="791.1" y="1166" font-size="40.0" textLength="107.5" lengthAdjust="spacingAndGlyphs">(kg/s)</text>
<g transform="translate(120.2 923) rotate(-90)" font-size="40.0">
<text x="-0.8" y="0" textLength="109.1" lengthAdjust="spacingAndGlyphs">Plume</text>
<text x="119.2" y="0" textLength="56.1" lengthAdjust="spacingAndGlyphs">top</text>
<text x="187.7" y="0" textLength="190.6" lengthAdjust="spacingAndGlyphs">(centreline)</text>
<text x="388.2" y="0" textLength="112.1" lengthAdjust="spacingAndGlyphs">height</text>
<text x="509.7" y="0" textLength="67.6" lengthAdjust="spacingAndGlyphs">(km</text>
<text x="586.7" y="0" textLength="57.1" lengthAdjust="spacingAndGlyphs">asl)</text>
</g>
<rect x="1212.5" y="250.5" width="224" height="699.5" fill="#fff" stroke="#000" stroke-width="2.8"/>
<text x="1250" y="288.9" font-size="36.3" textLength="147" lengthAdjust="spacingAndGlyphs">Magmatic</text>
<text x="1250" y="326.9" font-size="36.3" textLength="139" lengthAdjust="spacingAndGlyphs">temp. (K)</text>
<circle cx="1267.8" cy="371.6" r="7.9" fill="#0000f3"/>
<text x="1338" y="385.3" font-size="40.2">800</text>
<circle cx="1267.8" cy="431.23" r="7.9" fill="#004dff"/>
<text x="1338" y="444.93" font-size="40.2">878</text>
<circle cx="1267.8" cy="490.86" r="7.9" fill="#00b3ff"/>
<text x="1338" y="504.56" font-size="40.2">956</text>
<circle cx="1267.8" cy="550.49" r="7.9" fill="#29ffce"/>
<text x="1338" y="564.19" font-size="40.2">1033</text>
<circle cx="1267.8" cy="610.12" r="7.9" fill="#7bff7b"/>
<text x="1338" y="623.82" font-size="40.2">1111</text>
<circle cx="1267.8" cy="669.75" r="7.9" fill="#ceff29"/>
<text x="1338" y="683.45" font-size="40.2">1189</text>
<circle cx="1267.8" cy="729.38" r="7.9" fill="#ffc600"/>
<text x="1338" y="743.08" font-size="40.2">1267</text>
<circle cx="1267.8" cy="789.01" r="7.9" fill="#ff6800"/>
<text x="1338" y="802.71" font-size="40.2">1344</text>
<circle cx="1267.8" cy="848.64" r="7.9" fill="#f30900"/>
<text x="1338" y="862.34" font-size="40.2">1422</text>
<circle cx="1267.8" cy="908.27" r="7.9" fill="#800000"/>
<text x="1338" y="921.97" font-size="40.2">1500</text>
</svg></body></html>
